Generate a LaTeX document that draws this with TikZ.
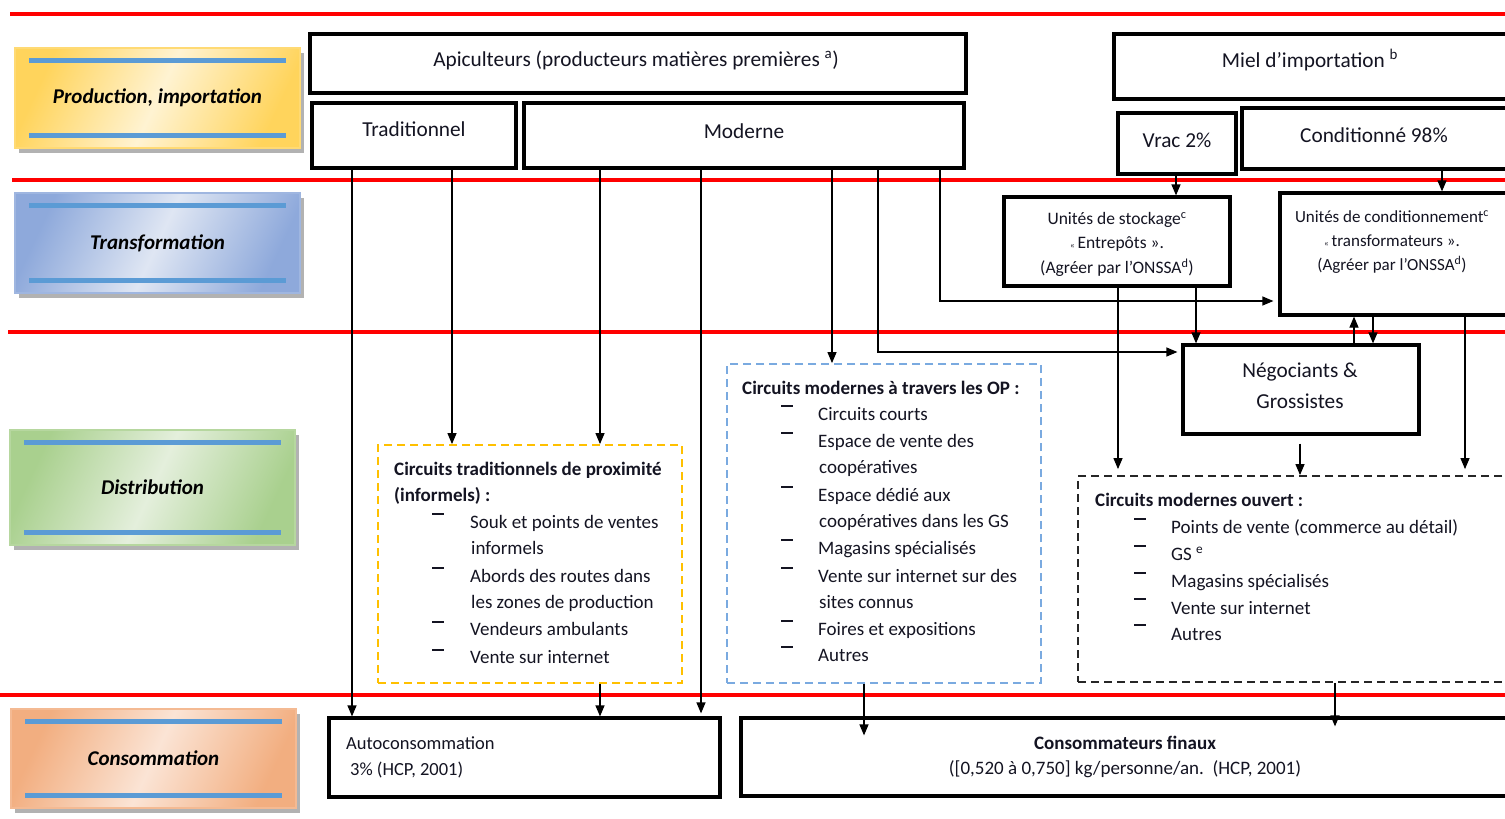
\documentclass[tikz,border=0pt]{standalone}
\usepackage{fontspec}
\setmainfont{Carlito}
\usetikzlibrary{arrows.meta}
\definecolor{lblue}{HTML}{5B9BD5}
\definecolor{yelD}{HTML}{FFD45C}
\definecolor{yelL}{HTML}{FFF3D2}
\definecolor{bluD}{HTML}{8EA9DB}
\definecolor{bluL}{HTML}{DFE6F3}
\definecolor{grnD}{HTML}{A9D08E}
\definecolor{grnL}{HTML}{E4EFDC}
\definecolor{orgD}{HTML}{F2AE80}
\definecolor{orgL}{HTML}{FBE4D5}
\definecolor{dashY}{HTML}{FFC000}
\definecolor{dashB}{HTML}{7AAAE0}
\definecolor{txt}{HTML}{141422}
\newcommand{\phaselab}[7]{%
  \fill[black!30] (#2-142.5+4,#3-#4/2+5) rectangle (#2+142.5+4,#3+#4/2+5);
  \node[draw=#5!85!white, line width=1.5pt, minimum width=285, minimum height=#4, inner sep=0,
        top color=#5, bottom color=#5, middle color=#6, shading angle=65] (#1) at (#2,#3) {};
  \draw[line width=5pt, lblue] ([xshift=15,yshift=-13]#1.north west) -- ([xshift=-15,yshift=-13]#1.north east);
  \draw[line width=5pt, lblue] ([xshift=15,yshift=13]#1.south west) -- ([xshift=-15,yshift=13]#1.south east);
  \node[inner sep=0, font=\fontsize{21}{25}\selectfont\bfseries\itshape] (#1-t) at (#1) {#7};
}
\begin{document}
\begin{tikzpicture}[x=1pt,y=-1pt,
  box/.style={draw, line width=3.2pt, inner sep=0, rectangle},
  arr/.style={line width=1.2pt, -{Triangle[length=11pt,width=9pt]}},
  redline/.style={draw=red, line width=3.5pt},
  t/.style={inner sep=0, text=txt, font=\fontsize{21.3}{25}\selectfont},
  ts/.style={inner sep=0, text=txt, font=\fontsize{17.5}{20}\selectfont},
  tl/.style={inner sep=0, text=txt, font=\fontsize{19}{23}\selectfont, anchor=base west},
  tlb/.style={tl, font=\fontsize{19}{23}\selectfont\bfseries},
  dsh/.style={line width=1.3pt, txt},
  dbox/.style={draw, line width=1.8pt, dash pattern=on 8pt off 5pt, inner sep=0, rectangle}]
\useasboundingbox (0,0) rectangle (1505,819);
\fill[white] (0,0) rectangle (1505,819);

% red separators
\draw[redline] (10,14) -- (1505,14);
\draw[redline] (12,180) -- (1505,180);
\draw[redline] (8,332) -- (1505,332);
\draw[redline] (0,695) -- (1505,695);

% phase labels
\phaselab{l1}{157.5}{98}{100}{yelD}{yelL}{Production, importation}
\phaselab{l2}{157.5}{243}{100}{bluD}{bluL}{Transformation}
\phaselab{l3}{152.5}{487.5}{115}{grnD}{grnL}{Distribution}
\phaselab{l4}{153.5}{758.5}{99}{orgD}{orgL}{Consommation}

% production boxes
\node[box, minimum width=656, minimum height=59] (api) at (638,63.5) {};
\node[t] (api-t) at (636,60) {Apiculteurs (producteurs matières premières \textsuperscript{a})};
\node[box, minimum width=204, minimum height=65] (trad) at (414,135.5) {};
\node[t] (trad-t) at (414,129) {Traditionnel};
\node[box, minimum width=440, minimum height=65] (mod) at (744,135.5) {};
\node[t] (mod-t) at (744,131) {Moderne};
\node[box, minimum width=398, minimum height=65] (imp) at (1313,66.5) {};
\node[t] (imp-t) at (1310,60) {Miel d’importation \textsuperscript{b}};
\node[box, minimum width=118, minimum height=61] (vrac) at (1177,143.5) {};
\node[t] (vrac-t) at (1177,140) {Vrac 2\%};
\node[box, minimum width=270, minimum height=61] (cond) at (1377,138.5) {};
\node[t] (cond-t) at (1374,135) {Conditionné 98\%};

% transformation boxes
\node[box, minimum width=226, minimum height=89] (stock) at (1117,241.5) {};
\node[ts] (stock-t1) at (1117,220) {Unités de stockage\textsuperscript{c}};
\node[ts] (stock-t2) at (1117,244) {{\fontsize{9}{9}\selectfont «}\,Entrepôts ».};
\node[ts] (stock-t3) at (1117,268) {(Agréer par l’ONSSA\textsuperscript{d})};
\node[box, minimum width=232, minimum height=122] (condu) at (1396,254) {};
\node[ts, font=\fontsize{17}{20}\selectfont] (condu-t1) at (1392,217) {Unités de conditionnement\textsuperscript{c}};
\node[ts, font=\fontsize{17}{20}\selectfont] (condu-t2) at (1392,241) {{\fontsize{9}{9}\selectfont «}\,transformateurs ».};
\node[ts, font=\fontsize{17}{20}\selectfont] (condu-t3) at (1392,265) {(Agréer par l’ONSSA\textsuperscript{d})};

% negociants
\node[box, minimum width=236, minimum height=89] (nego) at (1301,389.5) {};
\node[t] (nego-t1) at (1300,372) {Négociants \&};
\node[t] (nego-t2) at (1300,401) {Grossistes};

% distribution boxes
\node[dbox, draw=dashY, minimum width=304, minimum height=238] (trbox) at (530,564) {};
\node[tlb] (tr-h1) at (394,475) {Circuits traditionnels de proximité};
\node[tlb] (tr-h2) at (394,501) {(informels) :};
\node[tl] (tr-i1) at (470,528) {Souk et points de ventes};
\node[tl] (tr-i1b) at (471,554) {informels};
\node[tl] (tr-i2) at (470,582) {Abords des routes dans};
\node[tl] (tr-i2b) at (471,608) {les zones de production};
\node[tl] (tr-i3) at (470,635) {Vendeurs ambulants};
\node[tl] (tr-i4) at (470,663) {Vente sur internet};
\foreach \yy in {514,568,622,650} \draw[dsh] (432,\yy) -- (444,\yy);

\node[dbox, draw=dashB, minimum width=314, minimum height=319] (opbox) at (884,523.5) {};
\node[tlb] (op-h) at (742,394) {Circuits modernes à travers les OP :};
\node[tl] (op-i1) at (818,420) {Circuits courts};
\node[tl] (op-i2) at (818,447) {Espace de vente des};
\node[tl] (op-i2b) at (819,473) {coopératives};
\node[tl] (op-i3) at (818,501) {Espace dédié aux};
\node[tl] (op-i3b) at (819,527) {coopératives dans les GS};
\node[tl] (op-i4) at (818,554) {Magasins spécialisés};
\node[tl] (op-i5) at (818,582) {Vente sur internet sur des};
\node[tl] (op-i5b) at (819,608) {sites connus};
\node[tl] (op-i6) at (818,635) {Foires et expositions};
\node[tl] (op-i7) at (818,661) {Autres};
\foreach \yy in {406,433,487,540,568,621,647} \draw[dsh] (781,\yy) -- (793,\yy);

\node[dbox, draw=black!85, minimum width=434, minimum height=206] (ouv) at (1295,579) {};
\node[tlb] (ouv-h) at (1095,506) {Circuits modernes ouvert :};
\node[tl] (ouv-i1) at (1171,533) {Points de vente (commerce au détail)};
\node[tl] (ouv-i2) at (1171,560) {GS \textsuperscript{e}};
\node[tl] (ouv-i3) at (1171,587) {Magasins spécialisés};
\node[tl] (ouv-i4) at (1171,614) {Vente sur internet};
\node[tl] (ouv-i5) at (1171,640) {Autres};
\foreach \yy in {519,546,573,599,625} \draw[dsh] (1134,\yy) -- (1146,\yy);

% consumption boxes
\node[box, minimum width=391, minimum height=79] (auto) at (524.5,757.5) {};
\node[tl, font=\fontsize{18.5}{22}\selectfont] (auto-t1) at (346,749) {Autoconsommation};
\node[tl, font=\fontsize{18.5}{22}\selectfont] (auto-t2) at (350,775) {3\% (HCP, 2001)};
\node[box, minimum width=771, minimum height=78] (fin) at (1126.5,757) {};
\node[t, font=\fontsize{19}{23}\selectfont\bfseries] (fin-t1) at (1125,743) {Consommateurs finaux};
\node[t, font=\fontsize{19}{23}\selectfont] (fin-t2) at (1125,769) {([0,520 à 0,750] kg/personne/an.~~(HCP, 2001)};

% connectors
\draw[arr] ([xshift=-62]trad.south) -- ([xshift=-172.5]auto.north);
\draw[arr] ([xshift=38]trad.south) -- ([xshift=-78]trbox.north);
\draw[arr] ([xshift=-144]mod.south) -- ([xshift=70]trbox.north);
\draw[arr] ([xshift=-43]mod.south) -- ([xshift=176.5,yshift=3]auto.north);
\draw[arr] ([xshift=70]trbox.south) -- ([xshift=75.5]auto.north);
\draw[arr] ([xshift=88]mod.south) -- ([xshift=-52]opbox.north);
\draw[arr] ([xshift=134]mod.south) |- ([xshift=-4,yshift=37.5]nego.west);
\draw[arr] ([xshift=196]mod.south) |- ([xshift=-5,yshift=-47]condu.west);
\draw[arr] ([xshift=-1]vrac.south) -- ([xshift=59]stock.north);
\draw[arr] ([xshift=65]cond.south) -- ([xshift=46]condu.north);
\draw[arr] ([xshift=1]stock.south) -- ([xshift=-177,yshift=6]ouv.north);
\draw[arr] ([xshift=79]stock.south) -- ([xshift=-105]nego.north);
\draw[arr] ([xshift=53]nego.north) -- ([xshift=-42]condu.south);
\draw[arr] ([xshift=-23]condu.south) -- ([xshift=72]nego.north);
\draw[arr] ([xshift=-1,yshift=-8]nego.south) -- ([xshift=5]ouv.north);
\draw[arr] ([xshift=69]condu.south) -- ([xshift=170,yshift=6]ouv.north);
\draw[arr] ([xshift=-20]opbox.south) -- ([xshift=-262.5,yshift=-19]fin.north);
\draw[arr] ([xshift=40]ouv.south) -- ([xshift=208.5,yshift=-10]fin.north);
\end{tikzpicture}
\end{document}
